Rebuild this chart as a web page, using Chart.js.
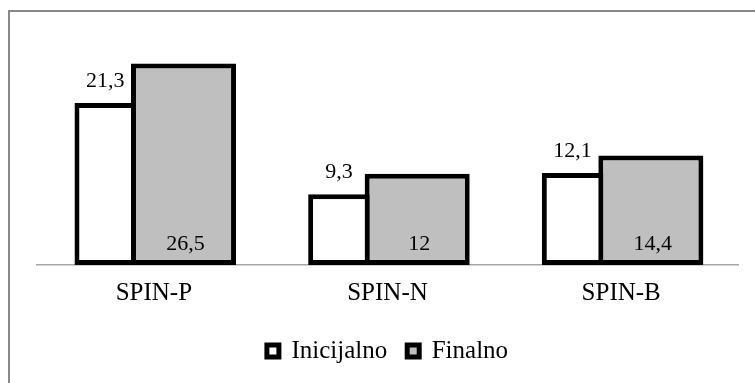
<!DOCTYPE html>
<html>
<head>
<meta charset="utf-8">
<script src="https://cdn.jsdelivr.net/npm/chart.js@4.4.1/dist/chart.umd.min.js"></script>
<style>
  html, body { margin: 0; padding: 0; background: #fff; }
  #wrap { position: relative; width: 755px; height: 383px; overflow: hidden; }
  #frame { position: absolute; left: 8px; top: 10px; width: 800px; height: 400px;
           border-top: 2px solid #888; border-left: 2px solid #888; }
  #chart { position: absolute; left: 0; top: 0; }
</style>
</head>
<body>
<div id="wrap">
  <div id="frame"></div>
  <canvas id="chart" width="755" height="383"></canvas>
</div>
<script>
const categories = ['SPIN-P', 'SPIN-N', 'SPIN-B'];
const inicijalno = [21.3, 9.3, 12.1];
const finalno = [26.5, 12, 14.4];
const seriesNames = ['Inicijalno', 'Finalno'];

const fmt = v => String(v).replace('.', ',');

// value labels: first series above the bar, second inside at the bottom
const valueLabels = {
    id: 'valueLabels',
    afterDatasetsDraw(chart) {
        const ctx = chart.ctx;
        ctx.save();
        ctx.font = '22px "Liberation Serif"';
        ctx.fillStyle = '#000';
        ctx.textAlign = 'center';
        ctx.textBaseline = 'alphabetic';
        chart.data.datasets.forEach((ds, di) => {
            chart.getDatasetMeta(di).data.forEach((bar, i) => {
                const txt = fmt(ds.data[i]);
                if (di === 0) {
                    ctx.fillText(txt, bar.x, bar.y - 16);
                } else {
                    ctx.fillText(txt, bar.x + 2, bar.base - 15);
                }
            });
        });
        ctx.restore();
    }
};

const ctx = document.getElementById('chart').getContext('2d');
new Chart(ctx, {
    type: 'bar',
    data: {
        labels: categories,
        datasets: [{
            label: seriesNames[0],
            data: inicijalno,
            backgroundColor: '#ffffff',
            borderColor: '#000000',
            borderWidth: 5,
            borderSkipped: false,
            categoryPercentage: 0.8316,
            barPercentage: 0.633
        }, {
            label: seriesNames[1],
            data: finalno,
            backgroundColor: '#bfbfbf',
            borderColor: '#000000',
            borderWidth: 5,
            borderSkipped: false,
            categoryPercentage: 0.508,
            barPercentage: 1.77
        }]
    },
    options: {
        responsive: false,
        animation: false,
        layout: { padding: { top: 37, left: 37, right: 17, bottom: 9.5 } },
        scales: {
            x: {
                grid: { display: false },
                border: { display: true, color: '#a6a6a6', width: 1.5 },
                ticks: { color: '#000', padding: 5, font: { family: 'Liberation Serif', size: 25 } },
                afterFit: s => { s.height = 53.5; }
            },
            y: {
                display: false,
                min: 0,
                max: 30
            }
        },
        plugins: {
            legend: {
                position: 'bottom',
                labels: {
                    color: '#000',
                    boxWidth: 12,
                    boxHeight: 12,
                    padding: 20,
                    font: { family: 'Liberation Serif', size: 25 }
                }
            },
            tooltip: { enabled: false }
        }
    },
    plugins: [valueLabels]
});
</script>
</body>
</html>
